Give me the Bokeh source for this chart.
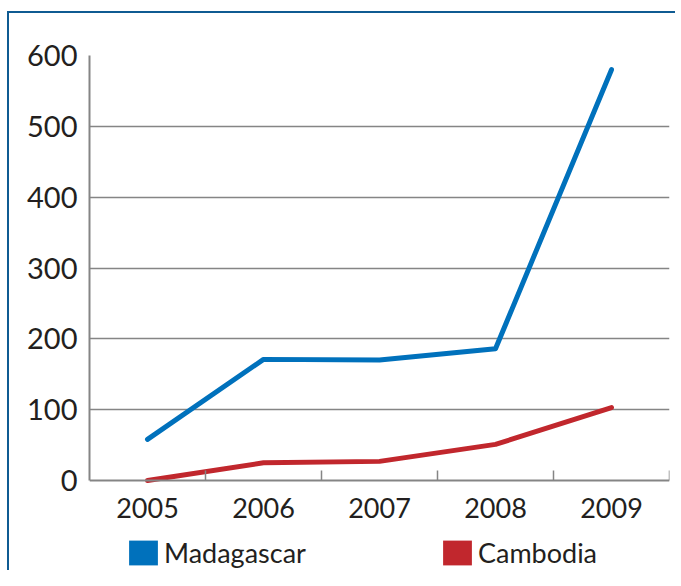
from bokeh.plotting import figure
from bokeh.models import FixedTicker, Legend, LegendItem, Range1d, InlineStyleSheet
from bokeh.embed import file_html
from bokeh.resources import INLINE

years = ["2005", "2006", "2007", "2008", "2009"]
madagascar = [58, 171, 170, 186, 580]
cambodia = [0, 25, 27, 51, 103]
y_ticks = [0, 100, 200, 300, 400, 500, 600]
series_names = ["Madagascar", "Cambodia"]
series_colors = ["#0071bc", "#c1272d"]

xs = list(range(1, len(years) + 1))

FONT = "Lato"
TXT = "#231f20"
GRAY = "#858585"
NAN = float("nan")

# plot area: 0..600 occupies 425 px; extra room below for the legend
FRAME_H = 515
Y_MAX = 600
Y_MIN = -Y_MAX * (FRAME_H - 425) / 425

p = figure(output_backend="svg", toolbar_location=None,
           x_range=Range1d(0.5, 5.5), y_range=Range1d(Y_MIN, Y_MAX),
           frame_width=580, frame_height=FRAME_H,
           min_border_left=80, min_border_top=42, min_border_right=6, min_border_bottom=0)
p.stylesheets = [InlineStyleSheet(css=":host { border-top: 2px solid #0f5b92; border-left: 2px solid #0f5b92; margin-top: 11px; margin-left: 7px; }")]
p.outline_line_color = None
p.background_fill_color = "white"
p.border_fill_color = "white"

p.line(xs, madagascar, line_color=series_colors[0], line_width=5, line_cap="round", line_join="round")
p.line(xs, cambodia, line_color=series_colors[1], line_width=5, line_cap="round", line_join="round")

# square swatches for the legend (nothing drawn in the plot)
sw1 = p.quad(left=[NAN], right=[NAN], top=[NAN], bottom=[NAN], fill_color=series_colors[0], line_color=None)
sw2 = p.quad(left=[NAN], right=[NAN], top=[NAN], bottom=[NAN], fill_color=series_colors[1], line_color=None)

# x axis, drawn at y = 0
xa = p.xaxis[0]
xa.fixed_location = 0
xa.ticker = FixedTicker(ticks=xs, minor_ticks=[x + 0.5 for x in xs])
xa.major_label_overrides = {i + 1: y for i, y in enumerate(years)}
xa.major_tick_line_color = None
xa.minor_tick_line_color = GRAY
xa.minor_tick_line_width = 1.5
xa.minor_tick_in = 10
xa.minor_tick_out = 0
xa.axis_line_color = GRAY
xa.axis_line_width = 2
xa.major_label_text_font = FONT
xa.major_label_text_font_size = "27px"
xa.major_label_text_color = TXT
xa.major_label_standoff = 11

ya = p.yaxis[0]
ya.bounds = (0, Y_MAX)
ya.ticker = FixedTicker(ticks=y_ticks)
ya.major_tick_line_color = None
ya.minor_tick_line_color = None
ya.axis_line_color = GRAY
ya.axis_line_width = 2
ya.major_label_text_font = FONT
ya.major_label_text_font_size = "29px"
ya.major_label_text_color = TXT
ya.major_label_standoff = 6

p.xgrid.grid_line_color = None
p.ygrid.ticker = FixedTicker(ticks=y_ticks[1:])
p.ygrid.grid_line_color = GRAY
p.ygrid.grid_line_width = 1.5

legend = Legend(items=[LegendItem(label=series_names[0], renderers=[sw1]),
                       LegendItem(label=series_names[1], renderers=[sw2])],
                orientation="horizontal", location=(36, 1),
                glyph_width=36, glyph_height=31, label_standoff=3, spacing=133,
                label_text_font=FONT, label_text_font_size="27px", label_text_color=TXT,
                border_line_color=None, background_fill_alpha=0,
                padding=0, margin=0, label_height=31)
p.add_layout(legend, "center")

open("out.html", "w").write(file_html(p, INLINE))
